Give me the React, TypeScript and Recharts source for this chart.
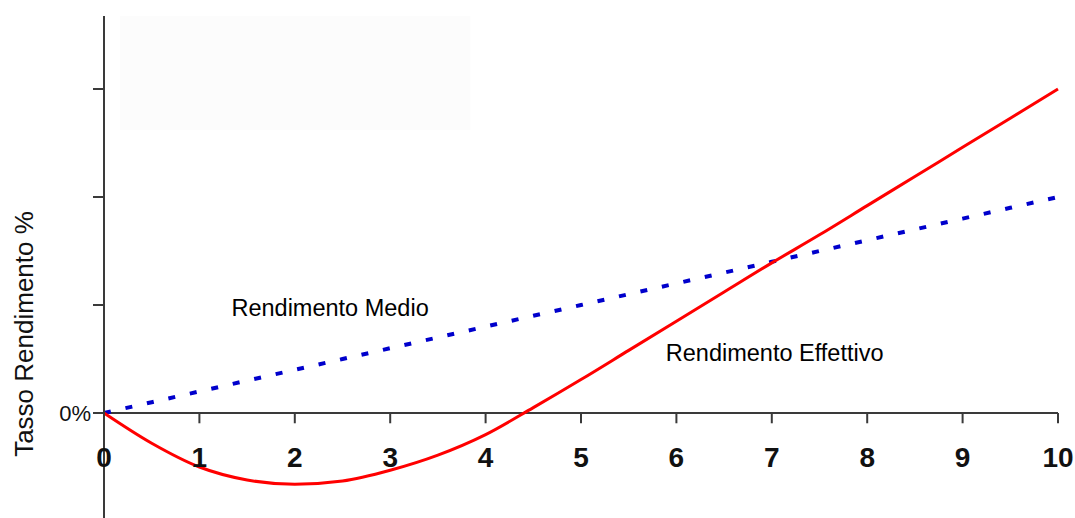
import React from 'react';
import { LineChart, Line, XAxis, YAxis, ReferenceLine, ReferenceDot, ReferenceArea } from 'recharts';

const years = [0, 0.5, 1, 1.5, 2, 2.5, 3, 3.5, 4, 4.5, 5, 5.5, 6, 6.5, 7, 7.5, 8, 8.5, 9, 9.5, 10];
const rendimentoEffettivo = [0, -0.28, -0.5, -0.62, -0.66, -0.63, -0.53, -0.39, -0.2, 0.05, 0.31, 0.58, 0.85, 1.12, 1.39, 1.65, 1.92, 2.19, 2.46, 2.73, 3.0];
const rendimentoMedio = [0, 0.1, 0.2, 0.3, 0.4, 0.5, 0.6, 0.7, 0.8, 0.9, 1.0, 1.1, 1.2, 1.3, 1.4, 1.5, 1.6, 1.7, 1.8, 1.9, 2.0];
const xTickLabels = ['0', '1', '2', '3', '4', '5', '6', '7', '8', '9', '10'];
const yTicks = [0, 1, 2, 3];
const yTickLabels = ['0%', '', '', ''];
const seriesLabels = { medio: 'Rendimento Medio', effettivo: 'Rendimento Effettivo' };
const yAxisTitle = 'Tasso Rendimento %';

const data = years.map((x, i) => ({ x, eff: rendimentoEffettivo[i], med: rendimentoMedio[i] }));

const FONT = "Arial, 'Liberation Sans', Helvetica, sans-serif";
const AXIS = '#3a3a3a';

export default function App() {
  return (
    <div style={{ position: 'absolute', left: 0, top: 0, background: '#fff' }}>
      <LineChart width={1075} height={518} data={data} margin={{ top: 16, right: 17, bottom: 0, left: 0 }}>
        <XAxis dataKey="x" type="number" domain={[0, 10]} hide />
        <YAxis
          type="number"
          domain={[-0.972, 3.676]}
          allowDataOverflow
          ticks={yTicks}
          width={104}
          tickSize={11}
          tickMargin={2}
          interval={0}
          tickFormatter={(v: number) => yTickLabels[yTicks.indexOf(v)] ?? ''}
          tick={{ fontSize: 22, fill: '#111', fontFamily: FONT }}
          axisLine={{ stroke: AXIS, strokeWidth: 2 }}
          tickLine={{ stroke: AXIS, strokeWidth: 2 }}
          label={{
            value: yAxisTitle,
            content: () => (
              <text
                x={33}
                y={334}
                transform="rotate(-90 33 334)"
                textAnchor="middle"
                fontSize={26}
                fontFamily={FONT}
                fill="#111"
              >
                {yAxisTitle}
              </text>
            ),
          }}
        />
        <ReferenceArea x1={0.17} x2={3.84} y1={2.62} y2={3.676} fill="#fcfcfc" fillOpacity={1} stroke="none" ifOverflow="hidden" />
        <ReferenceLine y={0} stroke={AXIS} strokeWidth={2} />
        {xTickLabels.map((t, i) =>
          i === 0 ? null : (
            <ReferenceLine
              key={'tk' + t}
              segment={[{ x: i, y: 0 }, { x: i, y: -0.095 }]}
              stroke={AXIS}
              strokeWidth={2}
            />
          )
        )}
        {xTickLabels.map((t, i) => (
          <ReferenceDot
            key={'lb' + t}
            x={i}
            y={-0.41}
            r={0}
            fill="none"
            stroke="none"
            label={{ value: t, position: 'center', fontSize: 28, fontWeight: 'bold', fill: '#111', fontFamily: FONT }}
          />
        ))}
        <Line
          type="linear"
          dataKey="med"
          stroke="#0000cc"
          strokeWidth={4}
          strokeDasharray="7 15"
          dot={false}
          isAnimationActive={false}
        />
        <Line
          type="monotone"
          dataKey="eff"
          stroke="#ff0000"
          strokeWidth={3}
          dot={false}
          isAnimationActive={false}
        />
        <ReferenceDot
          x={2.37}
          y={0.98}
          r={0}
          fill="none"
          stroke="none"
          label={{ value: seriesLabels.medio, position: 'center', fontSize: 23.5, fill: '#000', fontFamily: FONT }}
        />
        <ReferenceDot
          x={7.03}
          y={0.556}
          r={0}
          fill="none"
          stroke="none"
          label={{ value: seriesLabels.effettivo, position: 'center', fontSize: 23.5, fill: '#000', fontFamily: FONT }}
        />
      </LineChart>
    </div>
  );
}
